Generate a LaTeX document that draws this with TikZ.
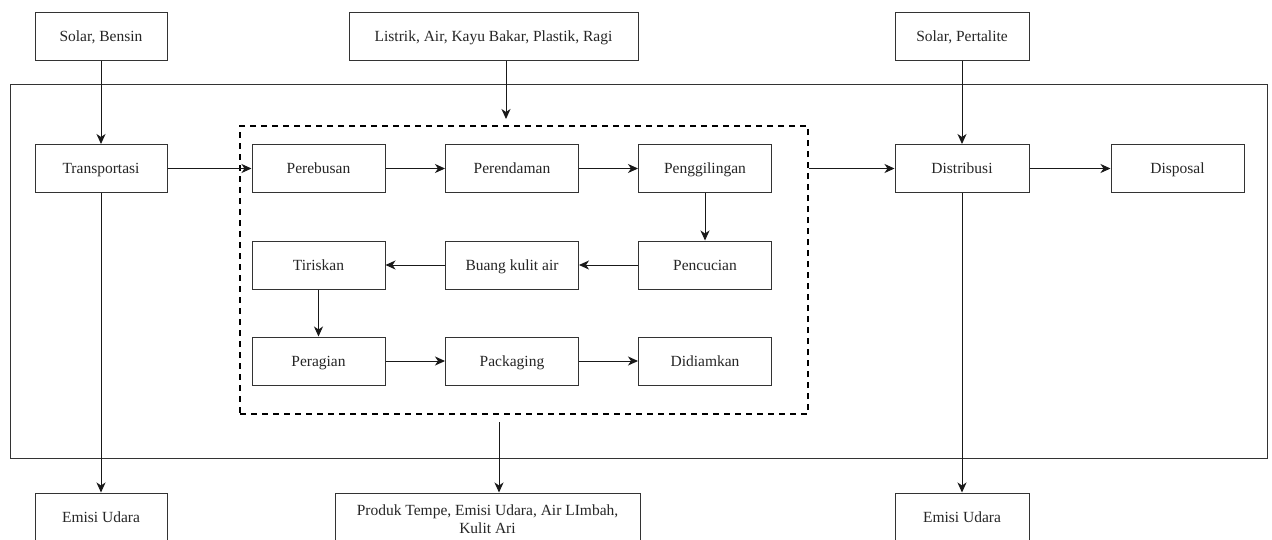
\documentclass[tikz,border=0pt]{standalone}
\usepackage{fontspec}
\setmainfont{Liberation Serif}
\usetikzlibrary{arrows.meta}
\begin{document}
\begin{tikzpicture}[x=1pt,y=-1pt,
  every node/.style={font=\fontsize{15.5}{18}\selectfont, text=black!85},
  boxbase/.style={draw=black!80, line width=1pt, minimum width=133pt, minimum height=48pt, inner sep=0pt, align=center},
  box/.style={boxbase, text height=11pt, text depth=0.5pt},
  arr/.style={draw=black!90, line width=1pt, -{Stealth[length=10pt,width=9pt,inset=3pt]}},
  dashbox/.style={draw=black, line width=1.8pt, dash pattern=on 6pt off 5pt, minimum width=568pt, minimum height=288pt, inner sep=0pt},
  outerbox/.style={draw=black!80, line width=1pt, minimum width=1257pt, minimum height=374pt, inner sep=0pt}
]
\useasboundingbox (0,0) rectangle (1272,539);
\fill[white] (0,0) rectangle (1272,539);

\node[outerbox] (outer) at (638.5,271) {};
\node[dashbox] (pbox) at (524,270) {};

% top inputs
\node[box, minimum width=132pt] (sb) at (101,36) {Solar, Bensin};
\node[box, minimum width=289pt] (li) at (493.5,36) {Listrik, Air, Kayu Bakar, Plastik, Ragi};
\node[box, minimum width=134pt] (sp) at (962,36) {Solar, Pertalite};

% main row
\node[box, minimum width=132pt] (tr) at (101,168.5) {Transportasi};
\node[box] (pb) at (318.5,168.5) {Perebusan};
\node[box] (pr) at (512,168.5) {Perendaman};
\node[box] (pg) at (705,168.5) {Penggilingan};
\node[box, minimum width=134pt] (ds) at (962,168.5) {Distribusi};
\node[box] (dp) at (1177.5,168.5) {Disposal};

% second row
\node[box] (tk) at (318.5,265) {Tiriskan};
\node[box] (bk) at (512,265) {Buang kulit air};
\node[box] (pc) at (705,265) {Pencucian};

% third row
\node[box] (pe) at (318.5,361) {Peragian};
\node[box] (pk) at (512,361) {Packaging};
\node[box] (dd) at (705,361) {Didiamkan};

% outputs
\node[box, minimum width=132pt] (e1) at (101,517) {Emisi Udara};
\node[boxbase, minimum width=305pt, minimum height=52pt] (pt) at (487.5,519) {Produk Tempe, Emisi Udara, Air LImbah,\\Kulit Ari};
\node[box, minimum width=134pt] (e2) at (962,517) {Emisi Udara};

\coordinate (lin) at (506,119);
\coordinate (pout) at (499,422);

% connectors
\draw[arr] (sb.south) -- (tr.north);
\draw[arr] (li.south -| lin) -- (lin);
\draw[arr] (sp.south) -- (ds.north);
\draw[arr] (tr.east) -- (pb.west);
\draw[arr] (pb.east) -- (pr.west);
\draw[arr] (pr.east) -- (pg.west);
\draw[arr] (pg.south) -- (pc.north);
\draw[arr] (pc.west) -- (bk.east);
\draw[arr] (bk.west) -- (tk.east);
\draw[arr] (tk.south) -- (pe.north);
\draw[arr] (pe.east) -- (pk.west);
\draw[arr] (pk.east) -- (dd.west);
\draw[arr] (ds.west -| pbox.east) -- (ds.west);
\draw[arr] (ds.east) -- (dp.west);
\draw[arr] (tr.south) -- (e1.north);
\draw[arr] (pout) -- (pt.north -| pout);
\draw[arr] (ds.south) -- (e2.north);
\end{tikzpicture}
\end{document}
